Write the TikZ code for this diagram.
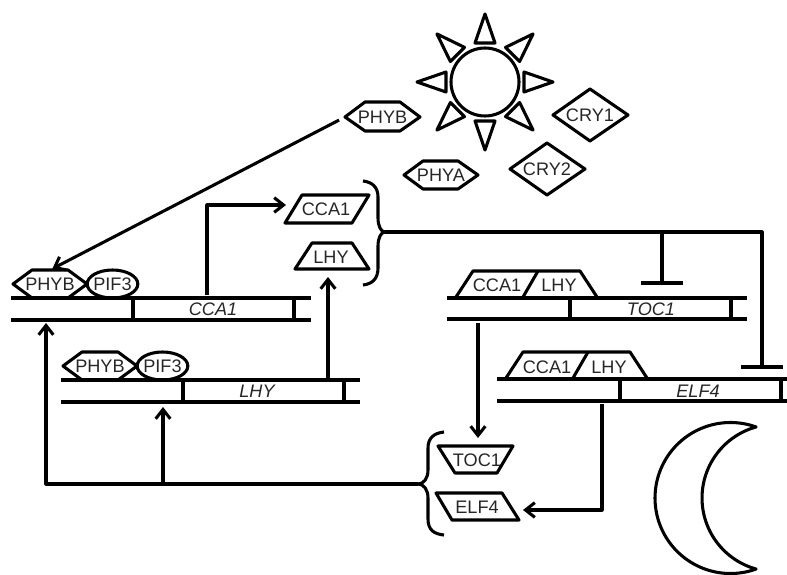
\documentclass[tikz,border=0pt]{standalone}
\usepackage{fontspec}
\setmainfont{Liberation Sans}
\usetikzlibrary{arrows.meta,calc}
\tikzset{
  ln/.style={line width=2.3pt,line join=round,color=black},
  shp/.style={line width=2.3pt,line join=miter,color=black},
  arr/.style={ln,-{Straight Barb[length=7pt,width=11pt,line width=2.3pt]}},
  inh/.style={ln},
  lbl/.style 2 args={font=\fontsize{13.6pt}{13.6pt}\selectfont,text=black!85,inner sep=0pt,outer sep=0pt,minimum width=#1*0.75pt,minimum height=#2*0.75pt},
  gene/.style={font=\fontsize{13.6pt}{13.6pt}\selectfont\itshape,text=black!85,inner sep=0pt}
}
\begin{document}
\begin{tikzpicture}[x=0.75pt,y=-0.75pt]
\useasboundingbox (0,0) rectangle (787,574);
% sun
\draw[ln] (485,82) circle[radius=25.5pt];
\foreach \a in {0,45,...,315}{
  \draw[ln,rotate around={\a:(485,82)}] (485,14) -- (495,43) -- (475,43) -- cycle;
}
% moon
\draw[ln,smooth] plot[domain=289.8:70.2,samples=60] ({730.5+75.5*cos(\x)},{498+75.5*sin(\x)})
  -- plot[domain=105.5:254.5,samples=60] ({775.7+73.7*cos(\x)},{498+73.7*sin(\x)}) -- cycle;
% photoreceptors
\draw[ln] (345,117) -- (365,102) -- (400,102) -- (420,117) -- (400,131) -- (365,131) -- cycle;
\node[lbl={75}{29}] (phybS) at (382.5,117) {PHYB};
\draw[ln] (404,175) -- (423,161) -- (458,161) -- (478,175) -- (458,189) -- (423,189) -- cycle;
\node[lbl={74}{28}] (phyaS) at (441,175) {PHYA};
\draw[ln] (553,115) -- (590,89) -- (628,115) -- (590,141) -- cycle;
\node[lbl={75}{52}] (cry1) at (590,115) {CRY1};
\draw[ln] (510,169) -- (547,143) -- (585,169) -- (547,195) -- cycle;
\node[lbl={75}{52}] (cry2) at (547,169) {CRY2};
% gene CCA1
\draw[ln] (11,298) -- (311,298) (11,320) -- (311,320) (133,298) -- (133,320) (294,298) -- (294,320);
\node[gene] (gCCA1) at (213,309.5) {CCA1};
\coordinate (gCCA1top) at (207,295);
\coordinate (gCCA1bot) at (46,323);
% gene LHY
\draw[ln] (61,380) -- (360,380) (61,402) -- (360,402) (183,380) -- (183,402) (344,380) -- (344,402);
\node[gene] (gLHY) at (257,391.5) {LHY};
\coordinate (gLHYtop) at (328,378);
\coordinate (gLHYbot) at (163,407);
% gene TOC1
\draw[ln] (447,298) -- (747,298) (447,319) -- (747,319) (570,298) -- (570,319) (731,298) -- (731,319);
\node[gene] (gTOC1) at (651,309) {TOC1};
\coordinate (gTOC1bot) at (478,323);
% gene ELF4
\draw[ln] (497,379) -- (790,379) (497,401) -- (790,401) (620,379) -- (620,401) (781,379) -- (781,401);
\node[gene] (gELF4) at (698,391) {ELF4};
\coordinate (gELF4bot) at (602,404);
% PHYB-PIF3 on CCA1
\draw[ln] (32,298) -- (13,284) -- (32,270) -- (68,270) -- (87,284) -- (68,298);
\draw[ln] (112.5,284) ellipse[x radius=19pt,y radius=10.5pt];
\node[lbl={74}{28}] (phybA) at (50,284) {PHYB};
\node[lbl={50}{28}] (pifA) at (112.5,284) {PIF3};
% PHYB-PIF3 on LHY
\draw[ln] (82,380) -- (63,366) -- (82,352) -- (118,352) -- (137,366) -- (118,380);
\draw[ln] (162.5,366) ellipse[x radius=19pt,y radius=10.5pt];
\node[lbl={74}{28}] (phybB) at (100,366) {PHYB};
\node[lbl={50}{28}] (pifB) at (162.5,366) {PIF3};
% CCA1/LHY on TOC1
\draw[ln] (456,297) -- (473,271) -- (580,271) -- (597,297);
\draw[ln] (538,271) -- (523,297);
\node[lbl={50}{26}] (cA) at (497,285) {CCA1};
\node[lbl={40}{26}] (lA) at (559,285) {LHY};
% CCA1/LHY on ELF4
\draw[ln] (506,378) -- (523,352) -- (630,352) -- (647,378);
\draw[ln] (588,352) -- (573,378);
\node[lbl={50}{26}] (cB) at (547,367) {CCA1};
\node[lbl={40}{26}] (lB) at (609,367) {LHY};
% proteins
\draw[ln] (285,223) -- (302,195) -- (369,195) -- (352,223) -- cycle;
\node[lbl={67}{28}] (pCCA1) at (326,209) {CCA1};
\coordinate (pCCA1in) at (286,205);
\draw[ln] (295,269) -- (312,243) -- (352,243) -- (369,269) -- cycle;
\node[lbl={74}{26}] (pLHY) at (331,257) {LHY};
\draw[ln] (438,446) -- (513,446) -- (497,473) -- (455,473) -- cycle;
\node[lbl={75}{27}] (pTOC1) at (477,460) {TOC1};
\draw[ln] (436,493) -- (502,493) -- (519,520) -- (452,520) -- cycle;
\node[lbl={83}{27}] (pELF4) at (477,507) {ELF4};
\coordinate (pELF4in) at (523,510);
% brace right
\coordinate (b1) at (385,232);
\draw[ln] (363,181) .. controls (372,182) and (378,187) .. (378,197) -- (378,218)
  .. controls (378,226) and (381,232) .. (b1) .. controls (381,232) and (378,238) .. (378,246)
  -- (378,268) .. controls (378,279) and (372,284) .. (363,285);
% brace left
\coordinate (b2) at (418,484);
\draw[ln] (444,432) .. controls (434,433) and (428,438) .. (428,448) -- (428,470)
  .. controls (428,478) and (424,484) .. (b2) .. controls (424,484) and (428,490) .. (428,498)
  -- (428,519) .. controls (428,530) and (434,534) .. (444,535);
% repression
\coordinate (junc1) at (662,232);
\coordinate (barA) at (662,283);
\coordinate (corner) at (762,232);
\coordinate (barB) at (762,367);
\draw[inh] (b1) -- (junc1) -- (corner) -- (barB);
\draw[inh] (junc1) -- (barA);
\draw[inh] ($(barA)+(-21,0)$) -- ($(barA)+(21,0)$);
\draw[inh] ($(barB)+(-21,0)$) -- ($(barB)+(21,0)$);
% activation
\coordinate (loopA) at (46,484);
\coordinate (loopB) at (163,484);
\draw[ln] (b2) -- (loopB);
\draw[arr] (loopB) -- (loopA) -- (gCCA1bot);
\draw[arr] (loopB) -- (gLHYbot);
\draw[arr] (gCCA1top) |- (pCCA1in);
\draw[arr] (gLHYtop) -- (328,277);
\draw[arr] (gTOC1bot) -- (478,438);
\draw[arr] (gELF4bot) |- (pELF4in);
\draw[arr,shorten <=5pt,shorten >=2pt] (phybS.west) -- (phybA.north);
\end{tikzpicture}
\end{document}
